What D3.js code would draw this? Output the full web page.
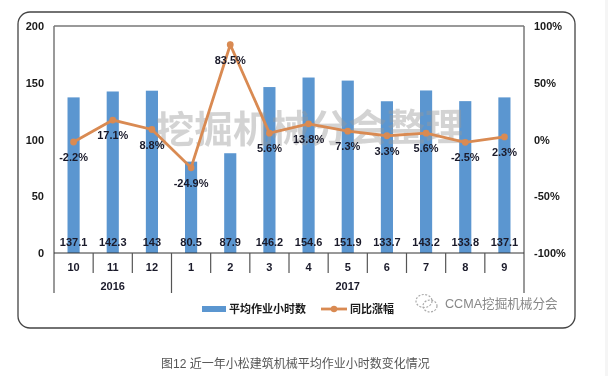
<!DOCTYPE html>
<html>
<head>
<meta charset="utf-8">
<script src="https://cdn.jsdelivr.net/npm/d3@7"></script>
<style>
  html, body { margin: 0; padding: 0; background: #fff; }
  svg { display: block; filter: blur(0.35px); }
  text { font-family: "Liberation Sans", "Noto Sans CJK SC", sans-serif; }
  .axis text { font-size: 11px; font-weight: bold; fill: #1a1a1a; }
  .label { font-size: 11px; font-weight: bold; fill: #1a1a2a; text-anchor: middle; }
</style>
</head>
<body>
<script>
// Chart data
var months = ["10", "11", "12", "1", "2", "3", "4", "5", "6", "7", "8", "9"];
var hours = [137.1, 142.3, 143, 80.5, 87.9, 146.2, 154.6, 151.9, 133.7, 143.2, 133.8, 137.1];
var change = [-2.2, 17.1, 8.8, -24.9, 83.5, 5.6, 13.8, 7.3, 3.3, 5.6, -2.5, 2.3];
var years = [
  { name: "2016", from: 0, to: 2 },
  { name: "2017", from: 3, to: 11 }
];
var hourTicks = [0, 50, 100, 150, 200];
var changeTicks = [-100, -50, 0, 50, 100];

var width = 608;
var height = 376;
var plot = { left: 54, right: 524, top: 26, bottom: 253 };
var blue = "#5b96d0";
var orange = "#d98a52";

var svg = d3.select("body").append("svg")
  .attr("width", width)
  .attr("height", height);

// grey strip on the right edge of the screenshot
svg.append("rect")
  .attr("x", 605).attr("y", 0)
  .attr("width", 3).attr("height", height)
  .attr("fill", "#f5f5f5");

// Outer chart frame
svg.append("rect")
  .attr("x", 18).attr("y", 12)
  .attr("width", 557).attr("height", 316)
  .attr("rx", 12)
  .attr("fill", "#fff")
  .attr("stroke", "#444")
  .attr("stroke-width", 1.3);

// Scales
var x = d3.scaleBand()
  .domain(d3.range(months.length))
  .range([plot.left, plot.right])
  .paddingInner(0.69)
  .paddingOuter(0.345);

var yHours = d3.scaleLinear()
  .domain([0, 200])
  .range([plot.bottom, plot.top]);

var yChange = d3.scaleLinear()
  .domain([-100, 100])
  .range([plot.bottom, plot.top]);

var center = function(i) { return x(i) + x.bandwidth() / 2; };
var step = (plot.right - plot.left) / months.length;

// Top edge of the plot
svg.append("line")
  .attr("x1", plot.left).attr("x2", plot.right)
  .attr("y1", plot.top).attr("y2", plot.top)
  .attr("stroke", "#777").attr("stroke-width", 1.5);

// Bars
svg.append("g").selectAll("rect")
  .data(hours)
  .enter().append("rect")
  .attr("x", function(d, i) { return x(i); })
  .attr("y", function(d) { return yHours(d); })
  .attr("width", x.bandwidth())
  .attr("height", function(d) { return plot.bottom - yHours(d); })
  .attr("fill", blue);

// Big watermark over the bars
svg.append("text")
  .attr("transform", "translate(156,144) rotate(-0.6)")
  .attr("font-size", 38.5)
  .attr("font-weight", "bold")
  .attr("fill", "#999")
  .attr("opacity", 0.42)
  .text("挖掘机械分会整理");

// Left and right axes
var axisLeft = d3.axisLeft(yHours).tickValues(hourTicks).tickSize(0).tickPadding(10);
var axisRight = d3.axisRight(yChange).tickValues(changeTicks).tickSize(0).tickPadding(10)
  .tickFormat(function(d) { return d + "%"; });

svg.append("g")
  .attr("class", "axis")
  .attr("transform", "translate(" + plot.left + ",0)")
  .call(axisLeft)
  .select(".domain").remove();

svg.append("g")
  .attr("class", "axis")
  .attr("transform", "translate(" + plot.right + ",0)")
  .call(axisRight)
  .select(".domain").remove();

// Side lines run down through the two category rows
[plot.left, plot.right].forEach(function(px) {
  svg.append("line")
    .attr("x1", px).attr("x2", px)
    .attr("y1", plot.top).attr("y2", plot.bottom + 40)
    .attr("stroke", "#777").attr("stroke-width", 1.5);
});

// Baseline
svg.append("line")
  .attr("x1", plot.left).attr("x2", plot.right)
  .attr("y1", plot.bottom).attr("y2", plot.bottom)
  .attr("stroke", "#333").attr("stroke-width", 1);

// Month separators and labels
svg.append("g").selectAll("line")
  .data(d3.range(1, months.length))
  .enter().append("line")
  .attr("x1", function(d) { return plot.left + d * step; })
  .attr("x2", function(d) { return plot.left + d * step; })
  .attr("y1", plot.bottom)
  .attr("y2", function(d) { return plot.bottom + (d === 3 ? 40 : 20); })
  .attr("stroke", "#555").attr("stroke-width", 1.2);

svg.append("g").selectAll("text")
  .data(months)
  .enter().append("text")
  .attr("class", "label")
  .attr("x", function(d, i) { return center(i); })
  .attr("y", plot.bottom + 18)
  .text(function(d) { return d; });

svg.append("g").selectAll("text")
  .data(years)
  .enter().append("text")
  .attr("class", "label")
  .attr("x", function(d) { return (center(d.from) + center(d.to)) / 2; })
  .attr("y", plot.bottom + 37)
  .text(function(d) { return d.name; });

// Bar value labels
svg.append("g").selectAll("text")
  .data(hours)
  .enter().append("text")
  .attr("class", "label")
  .attr("x", function(d, i) { return center(i); })
  .attr("y", plot.bottom - 7)
  .text(function(d) { return d; });

// Line series
var line = d3.line()
  .x(function(d, i) { return center(i); })
  .y(function(d) { return yChange(d); });

svg.append("path")
  .datum(change)
  .attr("d", line)
  .attr("fill", "none")
  .attr("stroke", orange)
  .attr("stroke-width", 2.8);

svg.append("g").selectAll("circle")
  .data(change)
  .enter().append("circle")
  .attr("cx", function(d, i) { return center(i); })
  .attr("cy", function(d) { return yChange(d); })
  .attr("r", 3.4)
  .attr("fill", orange);

svg.append("g").selectAll("text")
  .data(change)
  .enter().append("text")
  .attr("class", "label")
  .attr("x", function(d, i) { return center(i); })
  .attr("y", function(d) { return yChange(d) + 19; })
  .text(function(d) { return d + "%"; });

// Legend
svg.append("rect")
  .attr("x", 202).attr("y", 306)
  .attr("width", 24).attr("height", 6)
  .attr("fill", blue);

svg.append("text")
  .attr("x", 229).attr("y", 313)
  .attr("font-size", 11).attr("font-weight", "bold").attr("fill", "#1a1a1a")
  .text("平均作业小时数");

svg.append("line")
  .attr("x1", 321).attr("x2", 347)
  .attr("y1", 309).attr("y2", 309)
  .attr("stroke", orange).attr("stroke-width", 2.8);

svg.append("circle")
  .attr("cx", 334).attr("cy", 309).attr("r", 3.2)
  .attr("fill", orange);

svg.append("text")
  .attr("x", 350).attr("y", 313)
  .attr("font-size", 11).attr("font-weight", "bold").attr("fill", "#1a1a1a")
  .text("同比涨幅");

// WeChat mark and account name, bottom right
var mark = svg.append("g")
  .attr("fill", "none")
  .attr("stroke", "#aaa")
  .attr("stroke-width", 1.2)
  .attr("stroke-dasharray", "2 1.5");

mark.append("ellipse").attr("cx", 424).attr("cy", 301).attr("rx", 8).attr("ry", 6.5);
mark.append("ellipse").attr("cx", 430).attr("cy", 306).attr("rx", 7).attr("ry", 6);

svg.append("text")
  .attr("x", 445).attr("y", 308)
  .attr("font-size", 12.6).attr("fill", "#888")
  .text("CCMA挖掘机械分会");

// Caption
svg.append("text")
  .attr("x", 161).attr("y", 368)
  .attr("font-size", 12).attr("fill", "#555")
  .text("图12 近一年小松建筑机械平均作业小时数变化情况");
</script>
</body>
</html>
